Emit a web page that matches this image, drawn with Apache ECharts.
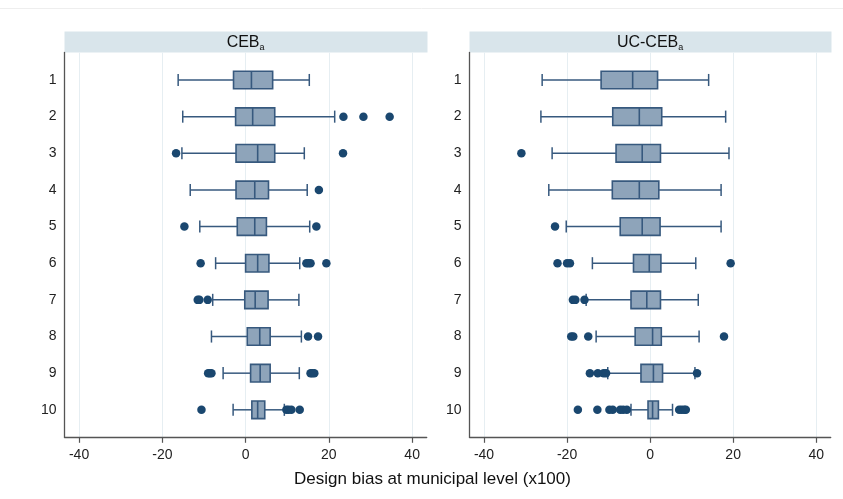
<!DOCTYPE html>
<html>
<head>
<meta charset="utf-8">
<script src="https://cdn.jsdelivr.net/npm/echarts@6/dist/echarts.min.js"></script>
<style>
  html, body { margin: 0; padding: 0; background: #fff; }
  #chart { width: 843px; height: 499px; }
</style>
</head>
<body>
<div id="chart"></div>
<script>
// rows (deciles) shown on the y axis
var rows = [1, 2, 3, 4, 5, 6, 7, 8, 9, 10];
var xTicks = [-40, -20, 0, 20, 40];

// five-number summaries per row: [lower whisker, Q1, median, Q3, upper whisker]
var cebBox = [
  [-16.2, -2.9, 1.4, 6.5, 15.3],
  [-15.1, -2.4, 1.7, 7.0, 21.4],
  [-15.3, -2.3, 2.9, 7.0, 14.1],
  [-13.3, -2.3, 2.2, 5.5, 14.8],
  [-11.0, -2.0, 2.2, 5.0, 15.4],
  [-7.2, 0.0, 2.9, 5.6, 13.0],
  [-7.9, -0.2, 2.3, 5.4, 12.8],
  [-8.2, 0.4, 3.4, 5.9, 13.4],
  [-5.4, 1.2, 3.5, 5.9, 12.9],
  [-3.0, 1.5, 2.9, 4.6, 9.3]
];
var ucBox = [
  [-26.0, -11.8, -4.2, 1.8, 14.1],
  [-26.3, -9.0, -2.6, 2.8, 18.2],
  [-23.6, -8.2, -1.9, 2.5, 19.0],
  [-24.4, -9.1, -2.6, 2.1, 17.1],
  [-20.2, -7.2, -1.9, 2.4, 17.1],
  [-13.9, -4.0, -0.2, 2.6, 11.0],
  [-15.4, -4.6, -0.8, 2.5, 11.6],
  [-13.0, -3.6, 0.6, 2.7, 11.8],
  [-10.2, -2.2, 0.8, 3.0, 10.8],
  [-4.6, -0.5, 0.6, 2.0, 5.4]
];

// outside values, one list per row
var cebOut = [
  [],
  [23.5, 28.3, 34.6],
  [-16.7, 23.4],
  [17.6],
  [-14.7, 17.0],
  [-10.8, 14.6, 15.1, 15.6, 19.4],
  [-11.5, -11.1, -9.1],
  [15.0, 17.4],
  [-9.0, -8.6, -8.2, 15.6, 16.0, 16.5],
  [-10.6, 9.8, 10.3, 11.0, 13.0]
];
var ucOut = [
  [],
  [],
  [-31.0],
  [],
  [-22.9],
  [-22.3, -20.0, -19.3, 19.4],
  [-18.6, -18.0, -15.8],
  [-19.0, -18.5, -14.9, 17.8],
  [-14.5, -12.6, -11.2, -10.6, 11.3],
  [-17.4, -12.7, -9.8, -9.0, -7.2, -6.5, -5.6, 7.0, 7.6, 8.2, 8.6]
];

var navy = '#1a476f';
var outline = '#37597e';
var boxFill = '#8ea4ba';
var axisGray = '#555555';
var gridLine = '#e6eef2';
var stripColor = '#d9e5eb';
var font = '"Liberation Sans", Arial, sans-serif';

function boxData(box) {
  return rows.map(function (r, i) { return [r].concat(box[i]); });
}
function outData(out) {
  var d = [];
  rows.forEach(function (r, i) {
    out[i].forEach(function (v) { d.push([v, r]); });
  });
  return d;
}

function renderBox(params, api) {
  var y = api.value(0);
  var lo = api.coord([api.value(1), y]);
  var q1 = api.coord([api.value(2), y]);
  var md = api.coord([api.value(3), y]);
  var q3 = api.coord([api.value(4), y]);
  var hi = api.coord([api.value(5), y]);
  var hb = api.size([0, 0.48])[1] / 2;
  var hc = api.size([0, 0.33])[1] / 2;
  var cy = lo[1];
  var ls = { stroke: outline, lineWidth: 1.5, fill: null };
  return {
    type: 'group',
    children: [
      { type: 'line', shape: { x1: lo[0], y1: cy, x2: q1[0], y2: cy }, style: ls },
      { type: 'line', shape: { x1: q3[0], y1: cy, x2: hi[0], y2: cy }, style: ls },
      { type: 'line', shape: { x1: lo[0], y1: cy - hc, x2: lo[0], y2: cy + hc }, style: ls },
      { type: 'line', shape: { x1: hi[0], y1: cy - hc, x2: hi[0], y2: cy + hc }, style: ls },
      { type: 'rect', shape: { x: q1[0], y: cy - hb, width: q3[0] - q1[0], height: 2 * hb },
        style: { fill: boxFill, stroke: outline, lineWidth: 1.6 } },
      { type: 'line', shape: { x1: md[0], y1: cy - hb, x2: md[0], y2: cy + hb },
        style: { stroke: outline, lineWidth: 1.6 } }
    ]
  };
}

var grids = [
  { left: 64.5, top: 52.5, width: 362.2, height: 384.8 },
  { left: 469.5, top: 52.5, width: 361.2, height: 384.8 }
];

function xAxisFor(i) {
  return {
    type: 'value', gridIndex: i, min: -43.5, max: 43.5,
    axisLine: { show: true, onZero: false, lineStyle: { color: axisGray, width: 1.3 } },
    axisTick: { show: true, length: 5.5, customValues: xTicks, lineStyle: { color: axisGray, width: 1.2 } },
    axisLabel: { customValues: xTicks, margin: 11, color: '#222', fontSize: 14, fontFamily: font },
    splitLine: { show: true, lineStyle: { color: gridLine, width: 1 } }
  };
}
function yAxisFor(i) {
  return {
    type: 'value', gridIndex: i, min: 0.25, max: 10.75, inverse: true,
    axisLine: { show: true, onZero: false, lineStyle: { color: axisGray, width: 1.3 } },
    axisTick: { show: false },
    axisLabel: { customValues: rows, margin: 8, color: '#222', fontSize: 14, fontFamily: font },
    splitLine: { show: false }
  };
}

function strip(g, label) {
  return {
    type: 'group',
    children: [
      { type: 'rect', shape: { x: g.left, y: 31.5, width: g.width + 0.8, height: 21 },
        style: { fill: stripColor } },
      { type: 'text', x: g.left + g.width / 2, y: 43,
        style: {
          text: '{m|' + label + '}{s|a}',
          align: 'center', verticalAlign: 'middle',
          rich: {
            m: { fontSize: 16, fontFamily: font, fill: '#111' },
            s: { fontSize: 9, fontFamily: font, fill: '#111', verticalAlign: 'bottom', padding: [9, 0, 0, 0] }
          }
        } }
    ]
  };
}

var chart = echarts.init(document.getElementById('chart'), null, { renderer: 'canvas' });
chart.setOption({
  animation: false,
  backgroundColor: '#ffffff',
  grid: grids,
  xAxis: [xAxisFor(0), xAxisFor(1)],
  yAxis: [yAxisFor(0), yAxisFor(1)],
  graphic: [
    { type: 'line', shape: { x1: 0, y1: 8.5, x2: 843, y2: 8.5 }, style: { stroke: '#eeeeee', lineWidth: 1 } },
    strip(grids[0], 'CEB'),
    strip(grids[1], 'UC-CEB'),
    { type: 'text', x: 432.5, y: 479.5,
      style: { text: 'Design bias at municipal level (x100)', align: 'center', verticalAlign: 'middle',
        fontSize: 17, fontFamily: font, fill: '#111' } }
  ],
  series: [
    { type: 'custom', xAxisIndex: 0, yAxisIndex: 0, renderItem: renderBox,
      encode: { x: [1, 2, 3, 4, 5], y: 0 }, data: boxData(cebBox), z: 2 },
    { type: 'custom', xAxisIndex: 1, yAxisIndex: 1, renderItem: renderBox,
      encode: { x: [1, 2, 3, 4, 5], y: 0 }, data: boxData(ucBox), z: 2 },
    { type: 'scatter', xAxisIndex: 0, yAxisIndex: 0, symbol: 'circle', symbolSize: 8.5,
      itemStyle: { color: navy, opacity: 1 }, data: outData(cebOut), z: 3 },
    { type: 'scatter', xAxisIndex: 1, yAxisIndex: 1, symbol: 'circle', symbolSize: 8.5,
      itemStyle: { color: navy, opacity: 1 }, data: outData(ucOut), z: 3 }
  ]
});
window.addEventListener('resize', function () { chart.resize(); });
</script>
</body>
</html>
